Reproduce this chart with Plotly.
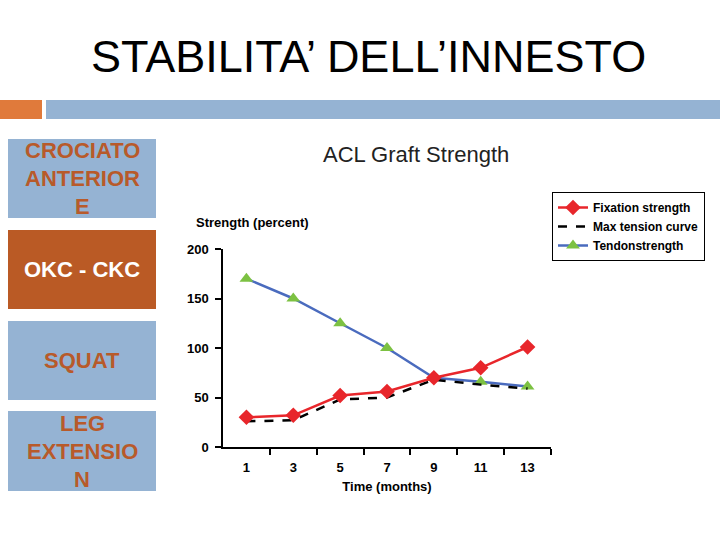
import plotly.graph_objects as go

months = [1, 3, 5, 7, 9, 11, 13]
fixation = [30, 32, 52, 56, 70, 80, 101]
max_tension = [26, 27, 48, 50, 68, 63, 59]
tendon = [170, 150, 125, 100, 70, 66, 61]
y_ticks = [0, 50, 100, 150, 200]
side_labels = [["CROCIATO", "ANTERIOR", "E"], ["OKC - CKC"], ["SQUAT"], ["LEG", "EXTENSIO", "N"]]

W, H = 720, 540
def px(x): return x / W
def py(y): return 1 - y / H

fig = go.Figure()
fig.add_trace(go.Scatter(x=months, y=tendon, name="Tendonstrength", mode="lines+markers",
                         line=dict(color="#4A6BBE", width=2.5),
                         marker=dict(symbol="triangle-up", size=12, color="#7CC142")))
fig.add_trace(go.Scatter(x=months, y=max_tension, name="Max tension curve", mode="lines",
                         line=dict(color="black", width=2.5, dash="dash")))
fig.add_trace(go.Scatter(x=months, y=fixation, name="Fixation strength", mode="lines+markers",
                         line=dict(color="#E8262B", width=2.5),
                         marker=dict(symbol="diamond", size=12, color="#E8262B")))

bold = dict(family="Liberation Sans, Arial", size=13, color="black", weight="bold")
legfont = dict(family="Liberation Sans, Arial", size=12, color="black", weight="bold")

fig.update_layout(
    width=W, height=H, margin=dict(l=0, r=0, t=0, b=0, autoexpand=False),
    paper_bgcolor="white", plot_bgcolor="white",
    showlegend=True,
    legend=dict(x=px(552), y=py(192), xanchor="left", yanchor="top",
                bordercolor="black", borderwidth=1, font=legfont,
                traceorder="reversed", tracegroupgap=0, itemwidth=30,
                bgcolor="white"),
    xaxis=dict(domain=[px(223), px(551)], range=[0, 14], showgrid=False, zeroline=False,
               automargin=False,
               showline=True, linecolor="black", linewidth=1.5,
               tickvals=months, ticktext=[str(m) for m in months], ticks="",
               tickfont=bold, ticklabelstandoff=8,
               minor=dict(tickvals=[2, 4, 6, 8, 10, 12, 14], ticks="outside", ticklen=6,
                          tickcolor="black", tickwidth=1.5),
               title=dict(text="Time (months)", font=bold, standoff=8)),
    yaxis=dict(domain=[py(447), py(249)], range=[0, 200], showgrid=False, zeroline=False,
               automargin=False,
               showline=True, linecolor="black", linewidth=1.5,
               tickvals=y_ticks, ticks="outside", ticklen=6, tickcolor="black", tickwidth=1.5,
               tickfont=bold, ticklabelstandoff=4),
)

shapes = [
    dict(type="rect", xref="paper", yref="paper", x0=px(0), x1=px(42), y0=py(119), y1=py(100),
         fillcolor="#E07A3B", line=dict(width=0), layer="below"),
    dict(type="rect", xref="paper", yref="paper", x0=px(46), x1=px(720), y0=py(119), y1=py(100),
         fillcolor="#95B3D3", line=dict(width=0), layer="below"),
]
boxes = [(139, 218, "#95B3D3", "#B85A2A"), (230, 309, "#BA5A25", "white"),
         (321, 400, "#95B3D3", "#B85A2A"), (411, 491, "#95B3D3", "#B85A2A")]
line_gap = 28
annotations = []
for (y0, y1, fc, tc), lines in zip(boxes, side_labels):
    shapes.append(dict(type="rect", xref="paper", yref="paper", x0=px(8), x1=px(156),
                       y0=py(y1), y1=py(y0), fillcolor=fc, line=dict(width=0), layer="below"))
    mid = (y0 + y1) / 2
    n = len(lines)
    for i, ln in enumerate(lines):
        yy = mid + (i - (n - 1) / 2) * line_gap
        annotations.append(dict(x=px(82), y=py(yy), xref="paper", yref="paper",
                                text=ln, showarrow=False, xanchor="center", yanchor="middle",
                                font=dict(family="Liberation Sans, Arial", size=22, color=tc,
                                          weight="bold")))

annotations += [
    dict(x=px(368), y=py(57), xref="paper", yref="paper", text="STABILITA’ DELL’INNESTO",
         showarrow=False, xanchor="center", yanchor="middle",
         font=dict(family="Liberation Sans, Arial", size=45, color="black")),
    dict(x=px(416), y=py(154), xref="paper", yref="paper", text="ACL Graft Strength",
         showarrow=False, xanchor="center", yanchor="middle",
         font=dict(family="Liberation Sans, Arial", size=22, color="#222222")),
    dict(x=px(253), y=py(222), xref="paper", yref="paper", text="Strength (percent)",
         showarrow=False, xanchor="center", yanchor="middle", font=bold),
]
fig.update_layout(shapes=shapes, annotations=annotations)

fig.write_html("out.html")
